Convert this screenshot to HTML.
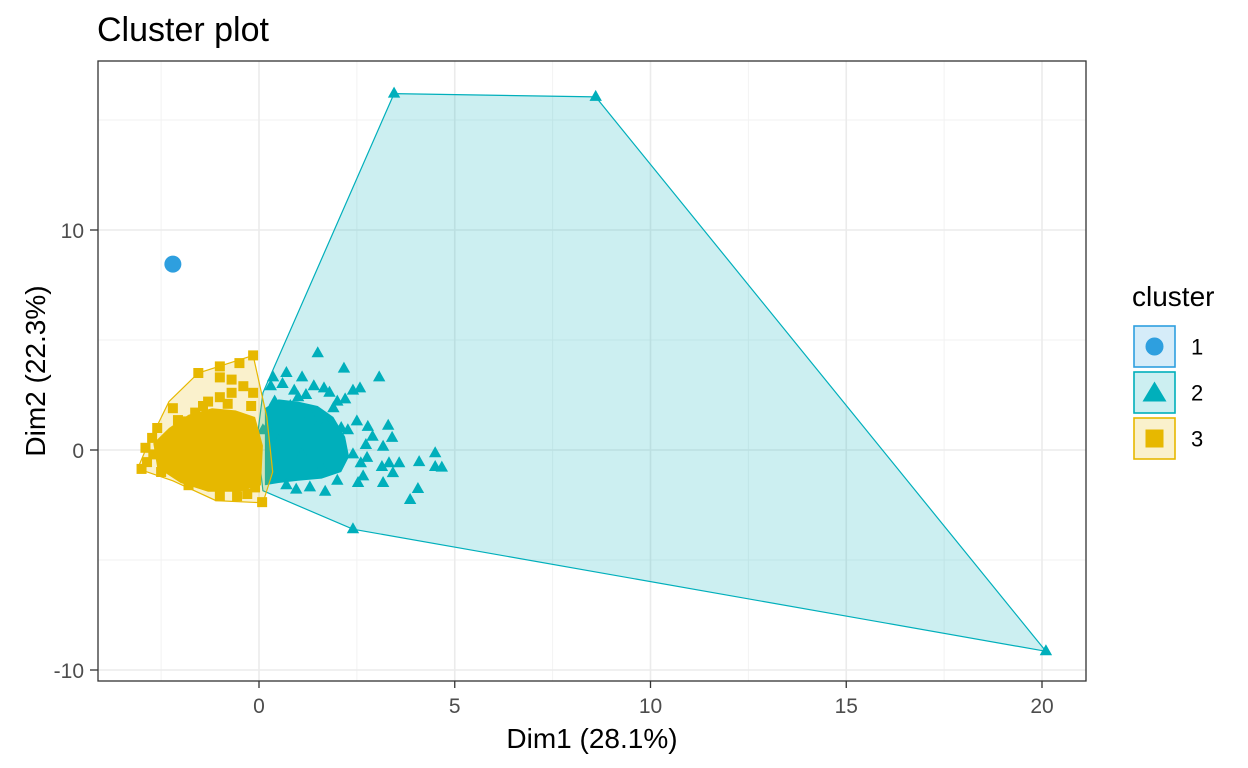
<!DOCTYPE html>
<html><head><meta charset="utf-8"><style>
body{margin:0;background:#fff;}
svg{display:block;font-family:"Liberation Sans",Arial,sans-serif;}
</style></head><body>
<svg id="chart" width="1248" height="768" xmlns="http://www.w3.org/2000/svg"></svg>
<script>
// ---- data ----
const xTicks=[0,5,10,15,20];
const xMinor=[-2.5,2.5,7.5,12.5,17.5];
const yTicks=[-10,0,10];
const yMinor=[-5,5,15];
const cluster1X=[-2.2];
const cluster1Y=[8.45];
const hull2X=[3.45,8.6,20.1,2.4,0.1,-0.05,0.1];
const hull2Y=[16.2,16.05,-9.15,-3.6,-1.85,0.5,2.6];
const hull3X=[-0.15,-1.55,-2.3,-2.85,-3.1,-2.2,-1.1,0.1,0.35,0.2];
const hull3Y=[4.3,3.5,2.2,0.2,-0.85,-1.4,-2.3,-2.4,-1.0,1.5];
const core2X=[0.15,0.5,1.0,1.5,1.9,2.2,2.3,2.1,1.6,1.0,0.5,0.15];
const core2Y=[1.9,2.3,2.2,2.0,1.5,0.6,-0.3,-1.0,-1.3,-1.4,-1.5,-1.6];
const core3X=[-2.7,-2.3,-1.8,-1.2,-0.6,-0.1,0.1,0.05,-0.5,-1.3,-2.0,-2.6];
const core3Y=[0.3,1.0,1.6,1.9,1.8,1.5,0.2,-1.6,-1.9,-1.9,-1.5,-0.8];
const pts2X=[3.45,8.6,20.1,2.4,1.5,2.17,3.07,0.7,1.1,0.36,1.66,2.4,2.58,2.2,3.3,2.78,2.5,3.4,3.17,4.5,4.67,4.5,4.09,3.58,3.32,3.14,3.42,3.17,4.06,3.86,2.66,2.53,1.69,0.95,2.76,2.73,1.56,2.27,0.3,0.6,0.9,1.2,1.4,1.8,2.0,0.4,0.8,1.3,1.7,2.1,0.2,0.5,1.1,1.6,2.4,2.0,0.7,1.3,0.35,0.1,2.9,2.6,1.9,1.0];
const pts2Y=[16.2,16.05,-9.15,-3.6,4.4,3.7,3.3,3.5,3.3,3.3,2.8,2.7,2.8,2.3,1.1,1.05,1.3,0.55,0.15,-0.15,-0.8,-0.77,-0.55,-0.6,-0.6,-0.77,-1.05,-1.5,-1.77,-2.27,-1.2,-1.5,-1.9,-1.8,-0.36,0.23,1.27,0.9,2.9,3.0,2.7,2.5,2.9,2.6,2.2,2.2,2.0,1.6,1.2,1.0,1.0,0.4,-0.2,-0.8,-0.2,-1.4,-1.6,-1.7,-1.2,0.9,0.6,-0.6,1.9,2.4];
const pts3X=[-0.15,-0.5,-1.0,-1.55,-0.7,-1.0,-0.4,-0.7,-1.0,-2.2,-1.43,-1.63,-2.6,-2.73,-2.9,-2.86,-3.0,-1.0,0.08,-0.56,-0.15,-2.07,-2.4,-2.5,-1.8,-0.3,-0.1,-1.9,-2.2,-1.3,-0.8,-0.2,-2.7];
const pts3Y=[4.3,3.95,3.8,3.5,3.2,3.3,2.9,2.6,2.4,1.9,2.0,1.7,1.0,0.55,0.1,-0.55,-0.86,-2.1,-2.37,-2.1,2.6,1.36,-0.3,-1.0,-1.6,-2.0,-1.7,1.3,0.6,2.2,2.1,2.0,-0.2];
const legendLabels=["1","2","3"];
// ---- layout ----
const L=98,R=1086,T=61,B=681;
const sx=v=>259+v*39.15, sy=v=>450-v*22;
const C1="#2E9FDF",C2="#00AFBB",C3="#E7B800";
const svg=document.getElementById('chart');
const NS="http://www.w3.org/2000/svg";
function mk(tag,attrs,parent){const e=document.createElementNS(NS,tag);for(const k in attrs)e.setAttribute(k,attrs[k]);(parent||svg).appendChild(e);return e;}
const grid=mk('g',{});


xMinor.forEach(v=>mk('line',{x1:sx(v),x2:sx(v),y1:T,y2:B,stroke:'#f2f2f2','stroke-width':1},grid));
yMinor.forEach(v=>mk('line',{x1:L,x2:R,y1:sy(v),y2:sy(v),stroke:'#f2f2f2','stroke-width':1},grid));
xTicks.forEach(v=>mk('line',{x1:sx(v),x2:sx(v),y1:T,y2:B,stroke:'#ebebeb','stroke-width':1.6},grid));
yTicks.forEach(v=>mk('line',{x1:L,x2:R,y1:sy(v),y2:sy(v),stroke:'#ebebeb','stroke-width':1.6},grid));
function poly(xs,ys){return xs.map((x,i)=>sx(x)+','+sy(ys[i])).join(' ');}
function tri(x,y,g,col){const cx=sx(x),cy=sy(y);const p=mk('path',{d:`M${cx},${cy-7}L${cx+6.2},${cy+4}L${cx-6.2},${cy+4}Z`,fill:col},g);}
function sq(x,y,g){const p=mk('rect',{x:sx(x)-5,y:sy(y)-5,width:10,height:10,fill:C3},g);}
const h2=mk('polygon',{points:poly(hull2X,hull2Y),fill:C2,'fill-opacity':0.2,stroke:C2,'stroke-width':1.2});


const g2=mk('g',{});


const c2=mk('polygon',{points:poly(core2X,core2Y),fill:C2},g2);


pts2X.forEach((x,i)=>tri(x,pts2Y[i],g2,C2));
const g3=mk('g',{});


const c3=mk('polygon',{points:poly(core3X,core3Y),fill:C3},g3);


pts3X.forEach((x,i)=>sq(x,pts3Y[i],g3));
const h3=mk('polygon',{points:poly(hull3X,hull3Y),fill:C3,'fill-opacity':0.2,stroke:C3,'stroke-width':1.2});


cluster1X.forEach((x,i)=>{const c=mk('circle',{cx:sx(x),cy:sy(cluster1Y[i]),r:8.5,fill:C1});

});
const bd=mk('rect',{x:L,y:T,width:R-L,height:B-T,fill:'none',stroke:'#333','stroke-width':1.3});


xTicks.forEach(v=>{mk('line',{x1:sx(v),x2:sx(v),y1:B,y2:B+7,stroke:'#333','stroke-width':1.3});
const t=mk('text',{x:sx(v),y:B+32,'text-anchor':'middle','font-size':21,fill:'#4d4d4d'});t.textContent=v;

});
yTicks.forEach(v=>{mk('line',{x1:L-8,x2:L,y1:sy(v),y2:sy(v),stroke:'#333','stroke-width':1.3});
const t=mk('text',{x:L-14,y:sy(v)+8,'text-anchor':'end','font-size':21,fill:'#4d4d4d'});t.textContent=v;

});
let t=mk('text',{x:592,y:748,'text-anchor':'middle','font-size':28,fill:'#000'});t.textContent='Dim1 (28.1%)';


t=mk('text',{x:0,y:0,'text-anchor':'middle','font-size':28,fill:'#000',transform:'translate(45,371) rotate(-90)'});t.textContent='Dim2 (22.3%)';


t=mk('text',{x:97,y:41,'font-size':34,fill:'#000'});t.textContent='Cluster plot';


t=mk('text',{x:1132,y:306,'font-size':28,fill:'#000'});t.textContent='cluster';


const cols=[C1,C2,C3];
legendLabels.forEach((lab,i)=>{const y=326+i*46;
const g=mk('g',{});


mk('rect',{x:1134,y:y,width:41,height:41,fill:cols[i],'fill-opacity':0.2,stroke:cols[i],'stroke-width':1.6},g);
const cx=1154.5,cy=y+20.5;
if(i==0)mk('circle',{cx:cx,cy:cy,r:9,fill:C1},g);
if(i==1)mk('path',{d:`M${cx},${cy-11}L${cx+12},${cy+9}L${cx-12},${cy+9}Z`,fill:C2},g);
if(i==2)mk('rect',{x:cx-9,y:cy-9,width:18,height:18,fill:C3},g);
const tx=mk('text',{x:1191,y:cy+8,'font-size':22,fill:'#000'},g);tx.textContent=lab;});
</script>
</body></html>
